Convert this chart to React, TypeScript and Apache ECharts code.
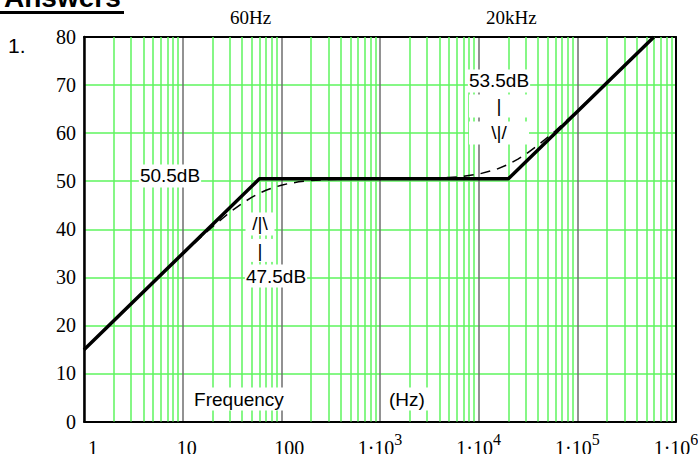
import React, { useEffect, useRef } from "react";
import * as echarts from "echarts";

// Asymptotic (straight-line) Bode magnitude: [frequency Hz, dB]
const asymptote: [number, number][] = [
  [1, 14.94],
  [60, 50.5],
  [20000, 50.5],
  [597000, 80],
];

// Actual response (dashed): [frequency Hz, dB]
const actual: [number, number][] = [
  [1, 14.94], [5, 28.89], [10, 34.82], [15, 38.2], [20, 40.5], [30, 43.51],
  [40, 45.38], [50, 46.63], [60, 47.49], [70, 48.11], [80, 48.56], [100, 49.17],
  [120, 49.53], [150, 49.86], [200, 50.13], [300, 50.33], [500, 50.45],
  [1000, 50.49], [2000, 50.54], [3000, 50.59], [5000, 50.76], [7000, 51.0],
  [10000, 51.47], [15000, 52.44], [20000, 53.51], [25000, 54.59], [30000, 55.62],
  [40000, 57.49], [60000, 60.5], [100000, 64.65], [200000, 70.54],
  [300000, 74.04], [500000, 78.47], [597000, 80],
];

// Decades and minor log grid multipliers
const decades = [1, 10, 100, 1000, 10000, 100000];
const minorMultipliers = [2, 3, 4, 5, 6, 7, 8, 9];

// Annotations: [text, frequency, dB, box width or null]
const annotations: [string, number, number, number | null][] = [
  ["50.5dB", 7.44, 51.08, null],
  ["/|\\", 60.8, 41.1, 27],
  ["|", 60.8, 35.6, 27],
  ["47.5dB", 88.3, 30.27, null],
  ["53.5dB", 16070, 70.85, null],
  ["|", 16070, 65.65, 58],
  ["\\|/", 16070, 60.03, 58],
];
const axisNotes: [string, number, number][] = [
  ["Frequency", 37.2, 4.68],
  ["(Hz)", 1877, 4.68],
];

const SERIF = '"Liberation Serif", "Times New Roman", serif';
const SANS = '"Liberation Sans", Arial, Helvetica, sans-serif';
const GREEN = "#5ef55e";

export default function App() {
  const ref = useRef<HTMLDivElement>(null);
  useEffect(() => {
    if (!ref.current) return;
    const chart = echarts.init(ref.current, null, { renderer: "svg" });
    const minorLines: { xAxis: number }[] = [];
    decades.forEach((d) =>
      minorMultipliers.forEach((m) => minorLines.push({ xAxis: d * m }))
    );

    const option: any = {
      animation: false,
      backgroundColor: "#fff",
      grid: {
        left: 84,
        top: 37,
        right: 22,
        bottom: 32.5,
        containLabel: false,
        outerBoundsMode: "none",
      },
      xAxis: [
        {
          type: "log",
          logBase: 10,
          min: 1,
          max: 1000000,
          axisLine: { show: true, onZero: false, lineStyle: { color: "#000", width: 2 } },
          axisTick: { show: false },
          splitLine: { show: true, lineStyle: { color: "#6e6e6e", width: 1.5 } },
          axisLabel: {
            margin: 10,
            alignMinLabel: "left",
            hideOverlap: false,
            formatter: (v: number) => {
              const e = Math.round(Math.log10(v));
              if (e === 0) return "{a|1}";
              if (e === 1) return "{b|10}";
              if (e === 2) return "{c|100}";
              return `{n|1\u00B710}{s|${e}}`;
            },
            rich: {
              a: { fontFamily: SERIF, fontSize: 20, color: "#000", padding: [0, 0, 0, 4], lineHeight: 26, verticalAlign: "bottom" },
              b: { fontFamily: SERIF, fontSize: 20, color: "#000", padding: [0, 0, 0, 8], lineHeight: 26, verticalAlign: "bottom" },
              c: { fontFamily: SERIF, fontSize: 20, color: "#000", padding: [0, 0, 0, 16], lineHeight: 26, verticalAlign: "bottom" },
              n: { fontFamily: SERIF, fontSize: 20, color: "#000", lineHeight: 26, verticalAlign: "bottom" },
              s: { fontFamily: SERIF, fontSize: 16, color: "#000", lineHeight: 26, verticalAlign: "top" },
            },
          },
        },
        {
          type: "log",
          logBase: 10,
          min: 1,
          max: 1000000,
          position: "top",
          axisLine: { show: true, onZero: false, lineStyle: { color: "#000", width: 2 } },
          axisTick: { show: false },
          axisLabel: { show: false },
          splitLine: { show: false },
        },
      ],
      yAxis: [
        {
          type: "value",
          min: 0,
          max: 80,
          interval: 10,
          axisLine: { show: true, onZero: false, lineStyle: { color: "#000", width: 2.5 } },
          axisTick: { show: false },
          splitLine: { show: true, lineStyle: { color: GREEN, width: 1.5 } },
          axisLabel: { margin: 8, fontFamily: SERIF, fontSize: 20, color: "#000" },
        },
        {
          type: "value",
          min: 0,
          max: 80,
          interval: 10,
          position: "right",
          axisLine: { show: true, onZero: false, lineStyle: { color: "#000", width: 2 } },
          axisTick: { show: false },
          axisLabel: { show: false },
          splitLine: { show: false },
        },
      ],
      series: [
        {
          type: "line",
          name: "actual",
          data: actual,
          showSymbol: false,
          symbol: "none",
          z: 3,
          lineStyle: { color: "#000", width: 1.5, type: [10, 7] },
          markLine: {
            silent: true,
            symbol: ["none", "none"],
            label: { show: false },
            lineStyle: { color: GREEN, width: 1.5, type: "solid" },
            data: minorLines,
            z: 1,
          },
        },
        {
          type: "line",
          name: "asymptote",
          data: asymptote,
          showSymbol: false,
          symbol: "none",
          z: 4,
          lineStyle: { color: "#000", width: 3.5 },
        },
        {
          type: "scatter",
          data: [],
          z: 5,
          markPoint: {
            silent: true,
            symbol: "rect",
            symbolSize: 1,
            itemStyle: { color: "rgba(0,0,0,0)" },
            label: {
              show: true,
              position: "inside",
              formatter: "{b}",
              fontFamily: SANS,
              fontSize: 19,
              color: "#000",
              backgroundColor: "#fff",
              padding: [2, 1],
              align: "center",
            },
            data: [
              ...annotations.map(([t, f, db, w]) => ({
                name: t,
                coord: [f, db],
                label: w ? { width: w, align: "center" } : {},
              })),
              ...axisNotes.map(([t, f, db], i) => ({
                name: t,
                coord: [f, db],
                label: { padding: i === 0 ? [2, 10] : [2, 6] },
              })),
            ],
          },
        },
      ],
      graphic: [
        {
          type: "text",
          left: 4,
          top: -17,
          style: { text: "Answers", font: `bold 28px ${SANS}`, fill: "#000" },
        },
        {
          type: "rect",
          shape: { x: 0, y: 11, width: 124, height: 3 },
          style: { fill: "#000" },
        },
        {
          type: "text",
          left: 8,
          top: 35,
          style: { text: "1.", font: `21px ${SANS}`, fill: "#000" },
        },
        {
          type: "text",
          left: 230,
          top: 8,
          style: { text: "60Hz", font: `19px ${SERIF}`, fill: "#000" },
        },
        {
          type: "text",
          left: 486,
          top: 8,
          style: { text: "20kHz", font: `19px ${SERIF}`, fill: "#000" },
        },
      ],
    };
    chart.setOption(option);
    return () => chart.dispose();
  }, []);
  return (
    <div
      ref={ref}
      style={{ position: "fixed", left: 0, top: 0, width: 698, height: 454, background: "#fff" }}
    />
  );
}
